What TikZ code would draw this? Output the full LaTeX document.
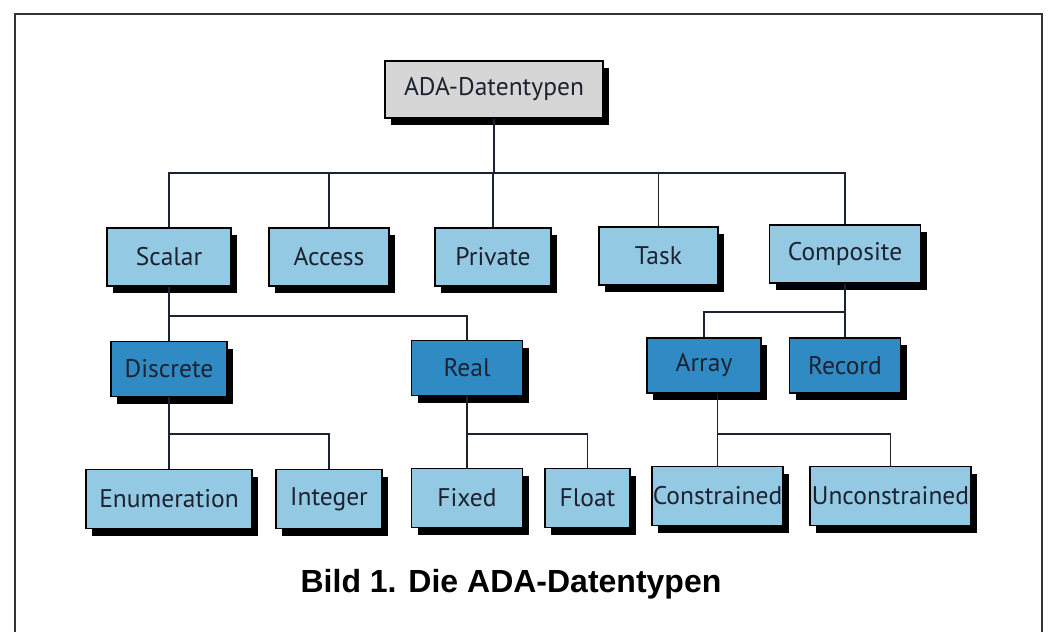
\documentclass[tikz,border=0pt]{standalone}
\usepackage{fontspec}
\setmainfont{PT Sans}
\newfontfamily\capfont{Liberation Sans}
\usetikzlibrary{shadows}
\definecolor{lightbl}{RGB}{148,201,227}
\definecolor{darkbl}{RGB}{48,138,196}
\definecolor{boxgray}{RGB}{214,214,214}
\definecolor{inkc}{RGB}{28,34,48}
\begin{document}
\begin{tikzpicture}[x=1pt, y=-1pt, line width=1.5pt, draw=inkc,
    every node/.style={font=\fontsize{25.5}{30}\selectfont, text=inkc},
    tbox/.style={draw=black, line width=1.8pt, inner sep=0pt,
      drop shadow={shadow xshift=6pt, shadow yshift=-7pt, fill=black, opacity=1}},
    gbox/.style={tbox, fill=boxgray, minimum height=57pt},
    lbox/.style={tbox, fill=lightbl, minimum height=58pt},
    dbox/.style={tbox, fill=darkbl, minimum height=55pt}]
  \useasboundingbox (0,0) rectangle (1050,632);
  \fill[white] (0,0) rectangle (1050,632);
  \draw[line width=2pt, black!80] (15,632) -- (15,14) -- (1042,14) -- (1042,632);
  \node[gbox, minimum width=218pt] (ada) at (494,89.5) {ADA-Datentypen};
  \node[lbox, minimum width=124pt] (scalar) at (169,257) {Scalar};
  \node[lbox, minimum width=120pt] (access) at (329,257) {Access};
  \node[lbox, minimum width=116pt] (private) at (493,257) {Private};
  \node[lbox, minimum width=119pt] (task) at (658.5,256) {Task};
  \node[lbox, minimum width=151pt] (composite) at (845,254) {Composite};
  \node[dbox, minimum width=116pt] (discrete) at (169,369) {Discrete};
  \node[dbox, minimum width=111pt] (real) at (467,368) {Real};
  \node[dbox, minimum width=114pt] (array) at (704,365.5) {Array};
  \node[dbox, minimum width=111pt] (record) at (845,365.5) {Record};
  \node[lbox, minimum width=166pt, minimum height=59pt] (enum) at (169,499) {Enumeration};
  \node[lbox, minimum width=106pt, minimum height=59pt] (integer) at (329,499) {Integer};
  \node[lbox, minimum width=111pt, minimum height=59pt] (fixed) at (467,498) {Fixed};
  \node[lbox, minimum width=85pt, minimum height=59pt] (float) at (587.5,498) {Float};
  \node[lbox, minimum width=131pt, minimum height=59pt] (constr) at (717.5,496) {Constrained};
  \node[lbox, minimum width=161pt, minimum height=59pt] (unconstr) at (890.5,496) {Unconstrained};
  \coordinate (bus1) at (0,173);
  \coordinate (bus2) at (0,316);
  \coordinate (bus3) at (0,312);
  \coordinate (bus4) at (0,434);
  \draw (ada.south) -- (ada.south |- bus1);
  \draw (scalar.north) |- (composite.north |- bus1) -- (composite.north);
  \foreach \n in {access,private,task} \draw (\n.north) -- (\n.north |- bus1);
  \draw (scalar.south) -- (discrete.north);
  \draw (scalar.south |- bus2) -| (real.north);
  \draw (composite.south) -- (record.north);
  \draw (array.north) |- (composite.south |- bus3);
  \draw (discrete.south) -- (enum.north);
  \draw (discrete.south |- bus4) -| (integer.north);
  \draw (real.south) -- (fixed.north);
  \draw (real.south |- bus4) -| (float.north);
  \draw (constr.north) -- (constr.north |- array.south);
  \draw (constr.north |- bus4) -| (unconstr.north);
  \node[font=\capfont\bfseries\fontsize{32}{38}\selectfont, text=black] (caption) at (511,584) {Bild 1. Die ADA-Datentypen};
\end{tikzpicture}
\end{document}
